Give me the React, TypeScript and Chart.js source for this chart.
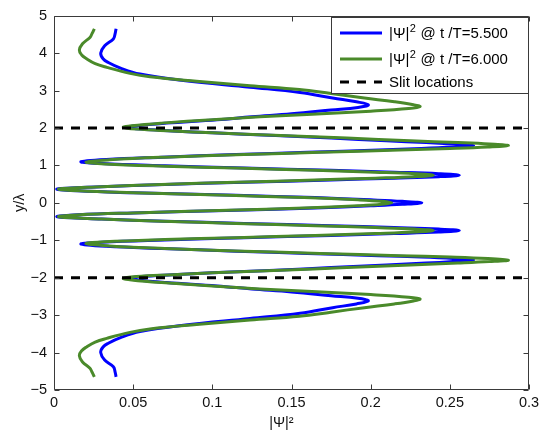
import { useEffect, useRef } from 'react';
import { Chart, registerables } from 'chart.js';

Chart.register(...registerables);

const FONT = "'Liberation Sans', Arial, Helvetica, sans-serif";

const xTicks = [0, 0.05, 0.1, 0.15, 0.2, 0.25, 0.3];
const yTicks = [-5, -4, -3, -2, -1, 0, 1, 2, 3, 4, 5];
const slitY = [2, -2];
const seriesLabels = ['|Ψ|² @ t /T=5.500', '|Ψ|² @ t /T=6.000', 'Slit locations'];
const xTitle = '|Ψ|²';
const yTitle = 'y/λ';

// |Psi|^2 at t/T = 5.5 (blue): y/lambda positions and values
const blueY = [
  4.65, 4.5, 4.38, 4.2, 4.0, 3.85, 3.75, 3.6, 3.44, 3.27, 3.09, 2.95, 2.8, 2.7, 2.62, 2.55, 2.48, 2.38, 2.3, 2.22,
  2.13, 2.06, 2.02, 1.97, 1.92, 1.87, 1.8, 1.73, 1.66, 1.61, 1.57, 1.53, 1.49, 1.45, 1.41, 1.35, 1.29, 1.22, 1.16, 1.1,
  1.05, 0.99, 0.93, 0.87, 0.82, 0.78, 0.74, 0.7, 0.66, 0.61, 0.55, 0.49, 0.43, 0.37, 0.32, 0.27, 0.2, 0.14, 0.08, 0.04, 0,
  -0.04, -0.08, -0.14, -0.2, -0.27, -0.32, -0.37, -0.43, -0.49, -0.55, -0.61, -0.66, -0.7, -0.74, -0.78, -0.82, -0.87,
  -0.93, -0.99, -1.05, -1.1, -1.16, -1.22, -1.29, -1.35, -1.41, -1.45, -1.49, -1.53, -1.57, -1.61, -1.66, -1.73, -1.8,
  -1.87, -1.92, -1.97, -2.02, -2.06, -2.13, -2.22, -2.3, -2.38, -2.48, -2.55, -2.62, -2.7, -2.8, -2.95, -3.09, -3.27,
  -3.44, -3.6, -3.75, -3.85, -4.0, -4.2, -4.38, -4.5, -4.65,
];
const blueVal = [
  0.0392, 0.0385, 0.0375, 0.032, 0.0295, 0.031, 0.0343, 0.042, 0.0543, 0.0817, 0.1238, 0.1554, 0.176, 0.191, 0.1986,
  0.192, 0.175, 0.15, 0.125, 0.103, 0.071, 0.052, 0.047, 0.055, 0.075, 0.1, 0.14, 0.175, 0.21, 0.235, 0.252, 0.265,
  0.252, 0.232, 0.205, 0.16, 0.115, 0.068, 0.033, 0.017, 0.03, 0.07, 0.12, 0.175, 0.215, 0.243, 0.256, 0.243, 0.215,
  0.175, 0.12, 0.07, 0.03, 0.002, 0.015, 0.05, 0.115, 0.165, 0.2, 0.22, 0.2323,
  0.22, 0.2, 0.165, 0.115, 0.05, 0.015, 0.002, 0.03, 0.07, 0.12, 0.175, 0.215, 0.243, 0.256, 0.243, 0.215, 0.175, 0.12,
  0.07, 0.03, 0.017, 0.033, 0.068, 0.115, 0.16, 0.205, 0.232, 0.252, 0.265, 0.252, 0.235, 0.21, 0.175, 0.14, 0.1, 0.075,
  0.055, 0.047, 0.052, 0.071, 0.103, 0.125, 0.15, 0.175, 0.192, 0.1986, 0.191, 0.176, 0.1554, 0.1238, 0.0817, 0.0543,
  0.042, 0.0343, 0.031, 0.0295, 0.032, 0.0375, 0.0385, 0.0392,
];

// |Psi|^2 at t/T = 6.0 (green)
const greenY = [
  4.65, 4.52, 4.42, 4.25, 4.08, 3.95, 3.85, 3.72, 3.62, 3.46, 3.37, 3.25, 3.13, 3.03, 2.92, 2.8, 2.7, 2.62, 2.57, 2.52,
  2.45, 2.37, 2.3, 2.22, 2.13, 2.06, 2.02, 1.97, 1.92, 1.87, 1.8, 1.73, 1.66, 1.61, 1.57, 1.53, 1.49, 1.45, 1.41, 1.35,
  1.29, 1.22, 1.15, 1.09, 1.04, 0.98, 0.93, 0.87, 0.82, 0.78, 0.74, 0.7, 0.66, 0.61, 0.55, 0.49, 0.43, 0.37, 0.32, 0.27,
  0.2, 0.14, 0.08, 0.04, 0,
  -0.04, -0.08, -0.14, -0.2, -0.27, -0.32, -0.37, -0.43, -0.49, -0.55, -0.61, -0.66, -0.7, -0.74, -0.78, -0.82, -0.87,
  -0.93, -0.98, -1.04, -1.09, -1.15, -1.22, -1.29, -1.35, -1.41, -1.45, -1.49, -1.53, -1.57, -1.61, -1.66, -1.73, -1.8,
  -1.87, -1.92, -1.97, -2.02, -2.06, -2.13, -2.22, -2.3, -2.37, -2.45, -2.52, -2.57, -2.62, -2.7, -2.8, -2.92, -3.03,
  -3.13, -3.25, -3.37, -3.46, -3.62, -3.72, -3.85, -3.95, -4.08, -4.25, -4.42, -4.52, -4.65,
];
const greenVal = [
  0.0255, 0.024, 0.0227, 0.018, 0.016, 0.0175, 0.0206, 0.026, 0.0333, 0.048, 0.0606, 0.09, 0.1238, 0.155, 0.175, 0.196,
  0.215, 0.227, 0.2312, 0.224, 0.2, 0.163, 0.13, 0.1, 0.068, 0.049, 0.0438, 0.052, 0.075, 0.1, 0.143, 0.185, 0.225,
  0.255, 0.275, 0.287, 0.274, 0.25, 0.218, 0.168, 0.12, 0.07, 0.035, 0.0202, 0.032, 0.07, 0.115, 0.165, 0.203, 0.228,
  0.2396, 0.228, 0.203, 0.165, 0.115, 0.068, 0.03, 0.003, 0.016, 0.05, 0.11, 0.158, 0.192, 0.207, 0.2133,
  0.207, 0.192, 0.158, 0.11, 0.05, 0.016, 0.003, 0.03, 0.068, 0.115, 0.165, 0.203, 0.228, 0.2396, 0.228, 0.203, 0.165,
  0.115, 0.07, 0.032, 0.0202, 0.035, 0.07, 0.12, 0.168, 0.218, 0.25, 0.274, 0.287, 0.275, 0.255, 0.225, 0.185, 0.143,
  0.1, 0.075, 0.052, 0.0438, 0.049, 0.068, 0.1, 0.13, 0.163, 0.2, 0.224, 0.2312, 0.227, 0.215, 0.196, 0.175, 0.155,
  0.1238, 0.09, 0.0606, 0.048, 0.0333, 0.026, 0.0206, 0.0175, 0.016, 0.018, 0.0227, 0.024, 0.0255,
];

const BLUE = '#0000ff';
const GREEN = '#4a8a2a';

// draws text, rendering the "²" as a raised, smaller "2" like MATLAB's TeX superscript
function drawSupText(ctx: CanvasRenderingContext2D, text: string, x: number, y: number, size: number) {
  const parts = text.split('²');
  let cx = x;
  parts.forEach((p, i) => {
    ctx.font = `${size}px ${FONT}`;
    ctx.fillText(p, cx, y);
    cx += ctx.measureText(p).width;
    if (i < parts.length - 1) {
      ctx.font = `${Math.round(size * 0.7)}px ${FONT}`;
      ctx.fillText('2', cx + 0.5, y - size * 0.33);
      cx += ctx.measureText('2').width + 1;
    }
  });
}

const framePlugin = {
  id: 'matlabFrame',
  afterDatasetsDraw(chart: any) {
    const { ctx, chartArea: a, scales } = chart;
    const xs = scales.x;
    const ys = scales.y;
    ctx.save();
    ctx.strokeStyle = '#3a3a3a';
    ctx.lineWidth = 1;
    const L = Math.round(a.left) + 0.5;
    const R = Math.round(a.right) - 0.5;
    const T = Math.round(a.top) + 0.5;
    const B = Math.round(a.bottom) - 0.5;
    ctx.beginPath();
    ctx.rect(L, T, R - L, B - T);
    const tl = 5;
    xs.ticks.forEach((t: any) => {
      const px = Math.round(xs.getPixelForValue(t.value)) + 0.5;
      ctx.moveTo(px, B);
      ctx.lineTo(px, B - tl);
      ctx.moveTo(px, T);
      ctx.lineTo(px, T + tl);
    });
    ys.ticks.forEach((t: any) => {
      const py = Math.round(ys.getPixelForValue(t.value)) + 0.5;
      ctx.moveTo(L, py);
      ctx.lineTo(L + tl, py);
      ctx.moveTo(R, py);
      ctx.lineTo(R - tl, py);
    });
    ctx.stroke();
    ctx.restore();
  },
  afterDraw(chart: any) {
    const { ctx, chartArea: a } = chart;
    const w = 198;
    const h = 77;
    const left = Math.round(a.right) - w;
    const top = Math.round(a.top) + 1;
    const rows = [16, 42, 65];
    ctx.save();
    ctx.fillStyle = '#ffffff';
    ctx.fillRect(left, top, w, h);
    ctx.strokeStyle = '#3a3a3a';
    ctx.lineWidth = 1;
    ctx.strokeRect(left + 0.5, top + 0.5, w - 1, h - 1);
    chart.data.datasets.forEach((ds: any, i: number) => {
      const y = top + rows[i];
      ctx.beginPath();
      ctx.strokeStyle = ds.borderColor;
      ctx.lineWidth = ds.borderWidth;
      ctx.setLineDash(ds.borderDash || []);
      ctx.moveTo(left + 9, y);
      ctx.lineTo(left + 51, y);
      ctx.stroke();
      ctx.setLineDash([]);
      ctx.fillStyle = '#000';
      ctx.textBaseline = 'middle';
      ctx.textAlign = 'left';
      drawSupText(ctx, ds.label, left + 58, y + 1, 15);
    });
    ctx.restore();
  },
};

export default function App() {
  const ref = useRef<HTMLCanvasElement | null>(null);

  useEffect(() => {
    document.body.style.margin = '0';
    const canvas = ref.current;
    if (!canvas) return;
    const slitData: any[] = [];
    slitY.forEach((y, i) => {
      if (i > 0) slitData.push({ x: (xTicks[0] + xTicks[xTicks.length - 1]) / 2, y: null });
      slitData.push({ x: xTicks[0], y });
      slitData.push({ x: xTicks[xTicks.length - 1], y });
    });
    const chart = new Chart(canvas, {
      type: 'scatter',
      data: {
        datasets: [
          {
            label: seriesLabels[0],
            data: blueY.map((y, i) => ({ x: blueVal[i], y })),
            borderColor: BLUE,
            backgroundColor: BLUE,
            borderWidth: 3,
            showLine: true,
            pointRadius: 0,
            tension: 0.4,
            order: 2,
          } as any,
          {
            label: seriesLabels[1],
            data: greenY.map((y, i) => ({ x: greenVal[i], y })),
            borderColor: GREEN,
            backgroundColor: GREEN,
            borderWidth: 3,
            showLine: true,
            pointRadius: 0,
            tension: 0.4,
            order: 1,
          } as any,
          {
            label: seriesLabels[2],
            data: slitData,
            borderColor: '#000000',
            backgroundColor: '#000000',
            borderWidth: 3,
            borderDash: [9, 8],
            showLine: true,
            spanGaps: false,
            pointRadius: 0,
            tension: 0,
            order: 0,
          } as any,
        ],
      },
      options: {
        animation: false,
        responsive: false,
        devicePixelRatio: 1,
        layout: { padding: { top: 15, right: 16, left: 0, bottom: 0 } },
        plugins: {
          legend: { display: false },
          tooltip: { enabled: false },
        },
        scales: {
          x: {
            type: 'linear',
            position: 'bottom',
            min: 0,
            max: 0.3,
            afterBuildTicks: (s: any) => {
              s.ticks = xTicks.map((v) => ({ value: v }));
            },
            afterFit: (s: any) => {
              s.height = 42;
            },
            grid: { display: false, drawTicks: false },
            border: { display: false },
            ticks: {
              padding: 4,
              color: '#111',
              font: { family: FONT, size: 14.5 },
              callback: (v: any) => String(Number(Number(v).toFixed(2))),
            },
            title: {
              display: true,
              text: xTitle + '     ',
              color: '#111',
              font: { family: FONT, size: 14.5 },
              padding: { top: 0, bottom: 0 },
            },
          },
          y: {
            type: 'linear',
            position: 'left',
            min: -5,
            max: 5,
            afterBuildTicks: (s: any) => {
              s.ticks = yTicks.map((v) => ({ value: v }));
            },
            afterFit: (s: any) => {
              s.width = 54;
            },
            grid: { display: false, drawTicks: false },
            border: { display: false },
            ticks: {
              padding: 7,
              color: '#111',
              font: { family: FONT, size: 14.5 },
              callback: (v: any) => (Number(v) < 0 ? '\u2212' + Math.abs(Number(v)) : String(v)),
            },
            title: {
              display: true,
              text: yTitle,
              color: '#111',
              font: { family: FONT, size: 14.5 },
              padding: { top: 11, bottom: 0 },
            },
          },
        },
      },
      plugins: [framePlugin],
    });
    return () => chart.destroy();
  }, []);

  return <canvas ref={ref} width={545} height={432} style={{ display: 'block' }} />;
}
